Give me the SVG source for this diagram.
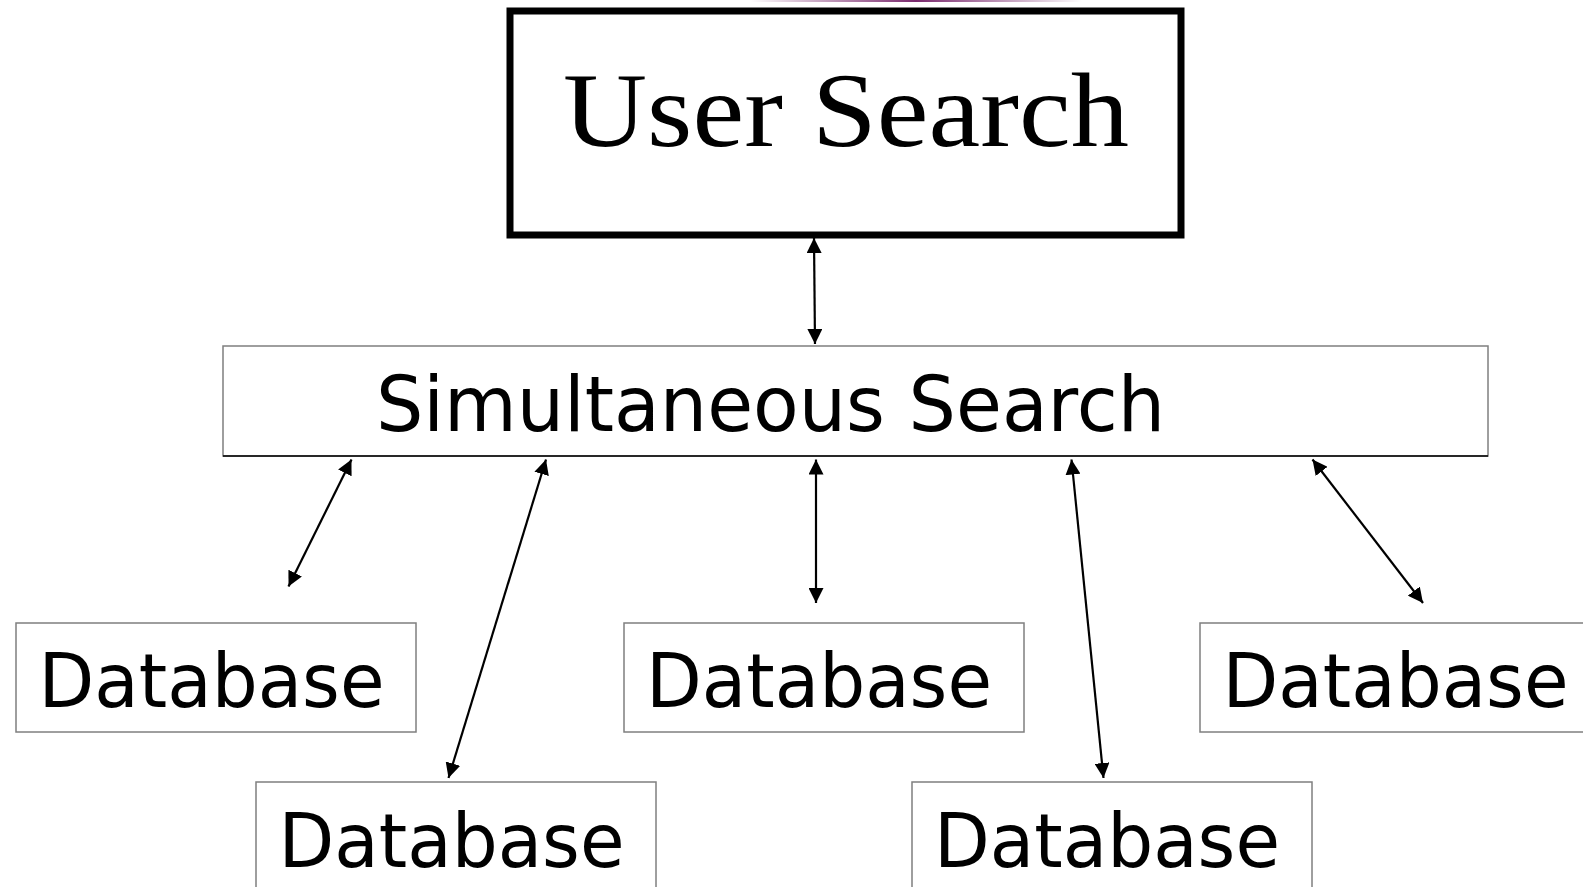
<svg xmlns="http://www.w3.org/2000/svg" width="1583" height="887" viewBox="0 0 1583 887">
  <style>
    .db rect { fill: #ffffff; stroke: #7f7f7f; stroke-width: 1.5; }
    .dbt { font-family: "DejaVu Sans", Verdana, sans-serif; font-size: 75px; fill: #000000; }
    .conn line { stroke: #000000; stroke-width: 2.2; marker-start: url(#ah); marker-end: url(#ah); }
  </style>
  <defs>
    <marker id="ah" viewBox="0 0 15 15" refX="15" refY="7.5" markerWidth="15" markerHeight="15" markerUnits="userSpaceOnUse" orient="auto-start-reverse">
      <path d="M0,0 L15,7.5 L0,15 Z" fill="#000000"/>
    </marker>
    <linearGradient id="topg" x1="0" y1="0" x2="1" y2="0">
      <stop offset="0" stop-color="#7a2a6e" stop-opacity="0"/>
      <stop offset="0.5" stop-color="#7a2a6e" stop-opacity="1"/>
      <stop offset="1" stop-color="#7a2a6e" stop-opacity="0"/>
    </linearGradient>
  </defs>
  <rect x="0" y="0" width="1583" height="887" fill="#ffffff"/>
  <rect x="750" y="0" width="332" height="2" fill="url(#topg)"/>

  <g id="user-search">
    <rect x="510" y="11" width="671" height="224" fill="#ffffff" stroke="#000000" stroke-width="7"/>
    <text x="563" y="146" font-family="Liberation Serif, Times New Roman, serif" font-size="106" textLength="566" lengthAdjust="spacingAndGlyphs">User Search</text>
  </g>

  <g id="simultaneous-search">
    <rect x="223" y="346" width="1265" height="110" fill="#ffffff" stroke="#7f7f7f" stroke-width="1.5"/>
    <line x1="223" y1="456" x2="1488" y2="456" stroke="#000000" stroke-width="1.5"/>
    <text x="376" y="431" font-family="DejaVu Sans, Verdana, sans-serif" font-size="76" textLength="789" lengthAdjust="spacingAndGlyphs">Simultaneous Search</text>
  </g>

  <g id="database-1" class="db">
    <rect x="16" y="623" width="400" height="109"/>
    <text class="dbt" x="38.5" y="707" textLength="346" lengthAdjust="spacingAndGlyphs">Database</text>
  </g>
  <g id="database-2" class="db">
    <rect x="256" y="782" width="400" height="120"/>
    <text class="dbt" x="278.5" y="867" textLength="346" lengthAdjust="spacingAndGlyphs">Database</text>
  </g>
  <g id="database-3" class="db">
    <rect x="624" y="623" width="400" height="109"/>
    <text class="dbt" x="646" y="707" textLength="346" lengthAdjust="spacingAndGlyphs">Database</text>
  </g>
  <g id="database-4" class="db">
    <rect x="912" y="782" width="400" height="120"/>
    <text class="dbt" x="934" y="867" textLength="346" lengthAdjust="spacingAndGlyphs">Database</text>
  </g>
  <g id="database-5" class="db">
    <rect x="1200" y="623" width="400" height="109"/>
    <text class="dbt" x="1222.5" y="707" textLength="346" lengthAdjust="spacingAndGlyphs">Database</text>
  </g>

  <g id="connectors" class="conn">
    <line x1="814" y1="238" x2="815" y2="344"/>
    <line x1="351.5" y1="459.5" x2="288.5" y2="586.5"/>
    <line x1="546" y1="459.5" x2="448.5" y2="778"/>
    <line x1="816" y1="459.5" x2="816" y2="603"/>
    <line x1="1071.5" y1="459.5" x2="1103.5" y2="778"/>
    <line x1="1312.5" y1="459.5" x2="1423" y2="603"/>
  </g>
</svg>
